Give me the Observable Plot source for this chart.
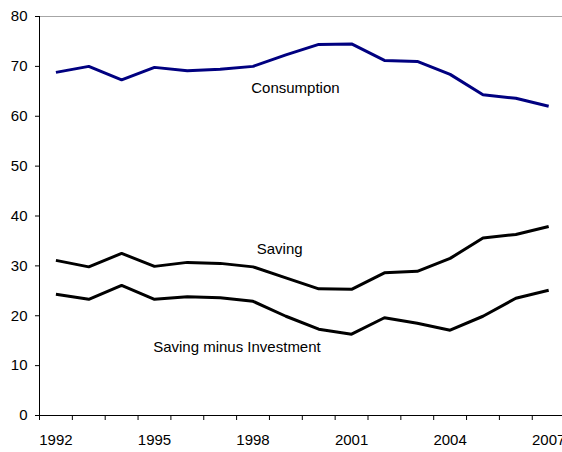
<!DOCTYPE html>
<html>
<head>
<meta charset="utf-8">
<script src="https://cdn.jsdelivr.net/npm/d3@7"></script>
<script src="https://cdn.jsdelivr.net/npm/@observablehq/plot@0.6"></script>
<style>
  html, body { margin: 0; padding: 0; background: #fff; overflow: hidden; }
  #chart { width: 562px; height: 452px; overflow: hidden; }
</style>
</head>
<body>
<div id="chart"></div>
<script>
const years = [1992,1993,1994,1995,1996,1997,1998,1999,2000,2001,2002,2003,2004,2005,2006,2007];
const consumption = [68.8,70.0,67.3,69.8,69.1,69.4,70.0,72.3,74.4,74.5,71.2,71.0,68.4,64.3,63.6,62.0];
const saving = [31.1,29.8,32.5,29.9,30.7,30.5,29.8,27.6,25.4,25.3,28.6,28.9,31.5,35.6,36.3,37.9];
const savingMinusInvestment = [24.3,23.3,26.1,23.3,23.8,23.6,22.9,19.9,17.3,16.3,19.6,18.5,17.1,19.9,23.5,25.1];
const yTicks = [0,10,20,30,40,50,60,70,80];
const xLabelYears = [1992,1995,1998,2001,2004,2007];
const seriesLabels = [
  {text: "Consumption", x: 1999.29, y: 65.6},
  {text: "Saving", x: 1998.81, y: 33.3},
  {text: "Saving minus Investment", x: 1997.51, y: 13.6}
];

const rows = [];
years.forEach((yr, i) => {
  rows.push({series: "Consumption", year: yr, value: consumption[i]});
  rows.push({series: "Saving", year: yr, value: saving[i]});
  rows.push({series: "Saving minus Investment", year: yr, value: savingMinusInvestment[i]});
});
const boundaries = d3.range(years[0] - 0.5, years[years.length - 1] + 1, 1);

const chart = Plot.plot({
  width: 562,
  height: 452,
  marginLeft: 39,
  marginRight: 0,
  marginTop: 16,
  marginBottom: 37,
  style: {fontFamily: "'Liberation Sans', Arial, sans-serif", fontSize: "15px", color: "#000", background: "#fff"},
  x: {domain: [1991.5, 2007.5], range: [39, 564.6]},
  y: {domain: [0, 80]},
  marks: [
    Plot.ruleY([80], {stroke: "#a6a6a6", strokeWidth: 1}),
    Plot.axisY(yTicks, {tickSize: 4, tickPadding: 8, label: null, fontSize: 15, stroke: "#000"}),
    Plot.axisX(boundaries, {tickSize: 5, tickFormat: () => "", label: null, stroke: "#000"}),
    Plot.axisX(xLabelYears, {tickSize: 0, tickPadding: 19, tickFormat: d => String(d), label: null, fontSize: 15}),
    Plot.ruleY([0], {stroke: "#000", strokeWidth: 1}),
    Plot.ruleX([1991.5], {y1: 0, y2: 80, stroke: "#000", strokeWidth: 1}),
    Plot.line(rows, {
      x: "year", y: "value", z: "series",
      stroke: d => d.series === "Consumption" ? "#000080" : "#000",
      strokeWidth: 3, strokeLinejoin: "miter", strokeLinecap: "butt"
    }),
    Plot.text(seriesLabels, {x: "x", y: "y", text: "text", fontSize: 15, fill: "#000", textAnchor: "middle"})
  ]
});
document.getElementById("chart").appendChild(chart);
</script>
</body>
</html>
